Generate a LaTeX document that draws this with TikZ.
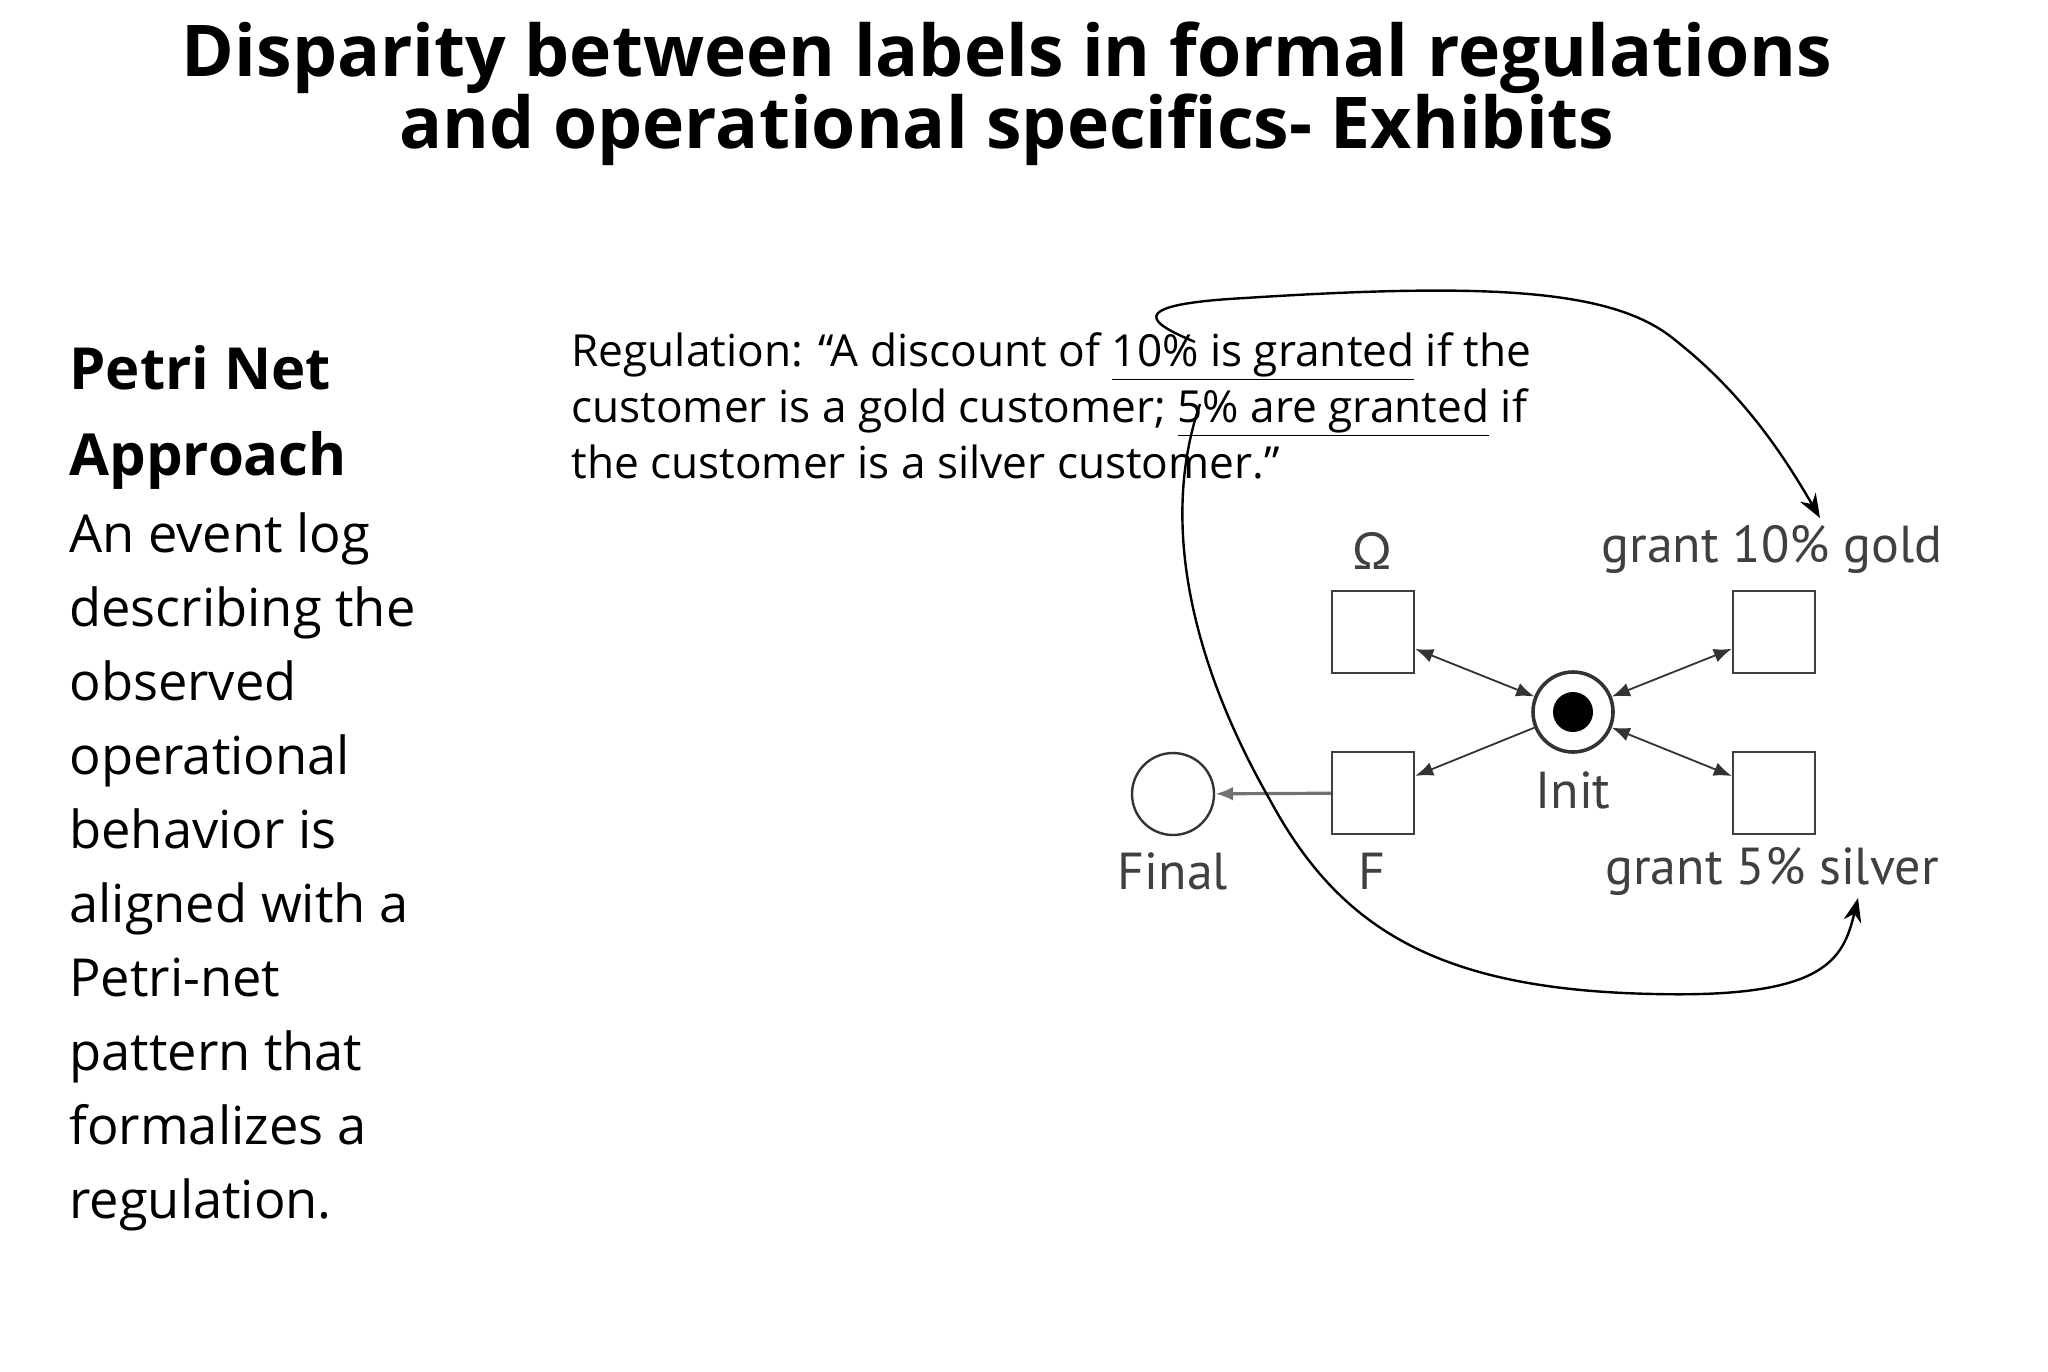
\documentclass[tikz,border=0pt]{standalone}
\usepackage{fontspec}
\setmainfont{Open Sans}
\newfontfamily\netfont{PT Sans}
\usetikzlibrary{arrows.meta}
\begin{document}
\begin{tikzpicture}[x=0.5pt,y=-0.5pt,
  trans/.style={draw=black!75,line width=1.2pt,minimum width=41pt,minimum height=41pt,inner sep=0pt},
  place/.style={circle,draw=black!80,line width=1.2pt,minimum size=41pt,inner sep=0pt},
  lbl/.style={font=\netfont\fontsize{26}{28}\selectfont,text=black!75},
  arc/.style={draw=black!80,line width=0.9pt,-{Latex[length=9pt,width=7pt]}},
  darc/.style={draw=black!80,line width=0.9pt,{Latex[length=9pt,width=7pt]}-{Latex[length=9pt,width=7pt]}},
  curv/.style={line width=1.2pt,-{Stealth[length=12pt,width=9pt]}}]
\useasboundingbox (0,0) rectangle (2048,1371);
\node[font=\bfseries\fontsize{35.7}{36}\selectfont,align=center] (title) at (1007,94)
 {Disparity between labels in formal regulations\\and operational specifics- Exhibits};
\node[anchor=north west,font=\bfseries\fontsize{29}{43}\selectfont,align=left,inner sep=0pt] (head) at (69,345)
 {Petri Net\\Approach};
\node[anchor=north west,font=\fontsize{26.2}{37}\selectfont,align=left,inner sep=0pt] (body) at (69,512)
 {An event log\\describing the\\observed\\operational\\behavior is\\aligned with a\\Petri-net\\pattern that\\formalizes a\\regulation.};
\node[anchor=north west,font=\fontsize{22.1}{28}\selectfont,align=left,inner sep=0pt] (reg) at (571,332)
 {Regulation: “A discount of \underline{10\% is granted} if the\\customer is a gold customer; \underline{5\% are granted} if\\the customer is a silver customer.”};
% net
\node[trans] (om) at (1373,632) {};
\node[trans] (gold) at (1774,632) {};
\node[trans] (f) at (1373,793) {};
\node[trans] (silver) at (1774,793) {};
\node[place,minimum size=40pt,line width=1.8pt] (init) at (1573,712) {};
\fill (init.center) circle (20);
\node[place] (final) at (1173,794) {};
\node[lbl] at (1372,551) {Ω};
\node[lbl] at (1772,549) {grant 10\% gold};
\node[lbl] at (1573,790) {Init};
\node[lbl] at (1173,871) {Final};
\node[lbl] at (1372,871) {F};
\node[lbl] at (1772,871) {grant 5\% silver};
\draw[darc] (om) -- (init);
\draw[darc] (gold) -- (init);
\draw[darc] (silver) -- (init);
\draw[arc] (init) -- (f);
\draw[arc,draw=black!55,line width=1.6pt] (f) -- (final);
% curved pointers
\coordinate (s1) at (1195,342);
\coordinate (t1) at (1820,518);
\coordinate (s2) at (1200,404);
\coordinate (t2) at (1858,898);
\draw[curv] (s1) .. controls (1155,325) and (1115,305) .. (1245,298)
  .. controls (1495,282) and (1615,290) .. (1675,340)
  .. controls (1745,395) and (1785,458) .. (t1);
\draw[curv] (s2) .. controls (1160,520) and (1190,660) .. (1270,800)
  .. controls (1340,930) and (1440,990) .. (1655,994)
  .. controls (1825,998) and (1843,960) .. (t2);
\end{tikzpicture}
\end{document}
